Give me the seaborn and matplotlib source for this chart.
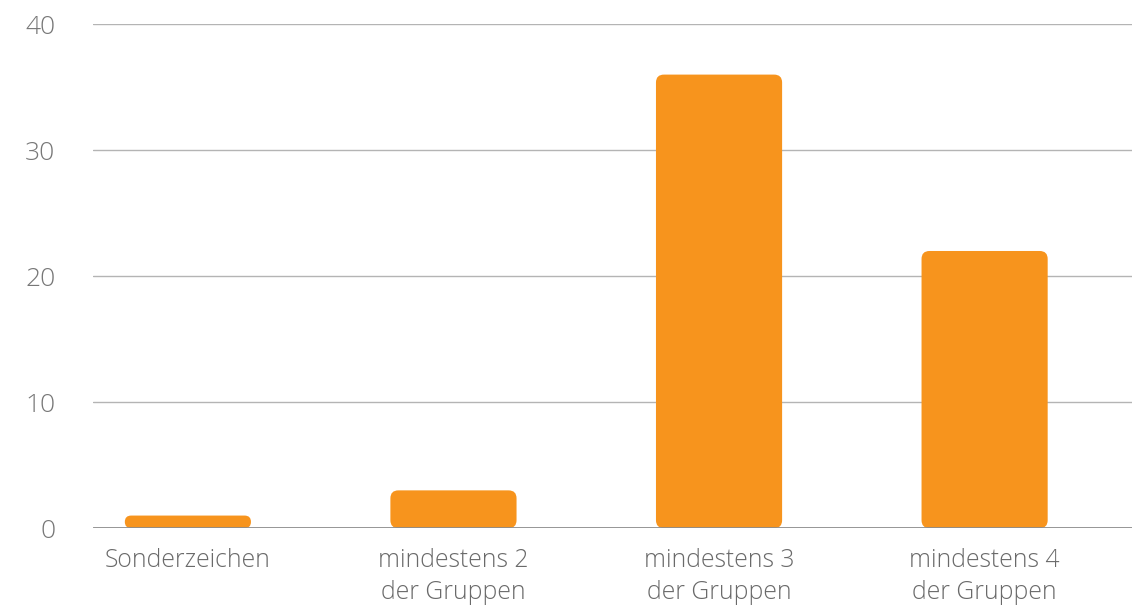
import matplotlib
matplotlib.use("Agg")
import matplotlib.pyplot as plt
from matplotlib.patches import FancyBboxPatch
import seaborn as sns
import pandas as pd

categories = ["Sonderzeichen", "mindestens 2\nder Gruppen", "mindestens 3\nder Gruppen", "mindestens 4\nder Gruppen"]
values = [1, 3, 36, 22]
yticks = [0, 10, 20, 30, 40]

sns.set_theme(style="white")
plt.rcParams['font.family'] = ['Open Sans', 'DejaVu Sans']

df = pd.DataFrame({"cat": categories, "val": values})

fig = plt.figure(figsize=(11.32, 6.05), dpi=100)
ax = fig.add_axes([0.082, 0.127, 0.918, 0.833])
sns.barplot(data=df, x="cat", y="val", color="#F7941D", width=0.475, ax=ax, saturation=1)

ax.set_xlim(-0.358, 3.555)
ax.set_ylim(0, 40)

# replace bars with rounded versions
aspect = 21.0
rs = 0.03
for p in list(ax.patches):
    x, y = p.get_x(), p.get_y()
    w, h = p.get_width(), p.get_height()
    r = min(rs, h / aspect / 2, w / 2)
    fb = FancyBboxPatch((x, y), w, h,
                        boxstyle=f"round,pad=0,rounding_size={r}",
                        mutation_aspect=aspect,
                        facecolor="#F7941D", edgecolor="none", zorder=3)
    p.remove()
    ax.add_patch(fb)

ax.set_yticks(yticks)
ax.set_yticklabels([str(t) for t in yticks])
for t in yticks[1:]:
    ax.axhline(t, color="#b4b4b4", lw=1.0, zorder=1)
ax.axhline(0, color="#8c8c8c", lw=2.0, zorder=4)

for s in ax.spines.values():
    s.set_visible(False)
ax.set_xlabel("")
ax.set_ylabel("")
ax.tick_params(axis="y", length=0, pad=27, labelsize=19, labelcolor="#777777")
ax.tick_params(axis="x", length=0, pad=14, labelsize=17.8, labelcolor="#6a6a6a")
for lab in ax.get_yticklabels() + ax.get_xticklabels():
    lab.set_fontweight(300)
for lab in ax.get_xticklabels():
    lab.set_linespacing(1.38)
    lab.set_ha("center")

fig.savefig("out.png", dpi=100, facecolor="white")
